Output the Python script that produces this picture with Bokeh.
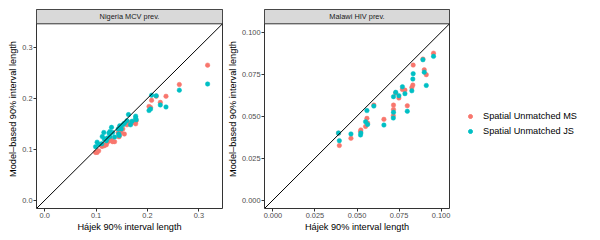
from bokeh.plotting import figure
from bokeh.models import Range1d, FixedTicker, Legend, LegendItem, NumeralTickFormatter
from bokeh.layouts import row
from bokeh.embed import file_html
from bokeh.resources import INLINE
from bokeh.core.properties import value

# ---------------- data ----------------
panel_titles = ["Nigeria MCV prev.", "Malawi HIV prev."]
series_names = ["Spatial Unmatched MS", "Spatial Unmatched JS"]
x_title = "Hájek 90% interval length"
y_title = "Model\u2013based 90% interval length"

ng_hajek = [0.317, 0.262, 0.236, 0.225, 0.208, 0.217, 0.203, 0.206, 0.177, 0.177,
            0.178, 0.163, 0.167, 0.155, 0.146, 0.145, 0.143, 0.130, 0.127, 0.132,
            0.125, 0.127, 0.122, 0.120, 0.112, 0.111, 0.102, 0.099, 0.115, 0.136,
            0.160, 0.149, 0.144, 0.116, 0.105, 0.170, 0.152]
ng_ms = [0.265, 0.227, 0.204, 0.192, 0.196, 0.204, 0.184, 0.182, 0.155, 0.150,
         0.156, 0.153, 0.150, 0.130, 0.144, 0.125, 0.133, 0.118, 0.120, 0.115,
         0.117, 0.122, 0.114, 0.109, 0.106, 0.106, 0.094, 0.094, 0.109, 0.115,
         0.148, 0.133, 0.125, 0.107, 0.097, 0.152, 0.140]
ng_js = [0.228, 0.216, 0.183, 0.187, 0.206, 0.205, 0.176, 0.179, 0.165, 0.161,
         0.158, 0.168, 0.148, 0.151, 0.146, 0.127, 0.140, 0.143, 0.135, 0.133,
         0.132, 0.125, 0.122, 0.117, 0.125, 0.111, 0.114, 0.105, 0.133, 0.124,
         0.156, 0.140, 0.130, 0.120, 0.110, 0.155, 0.148]

mw_hajek = [0.0955, 0.0892, 0.0900, 0.0912, 0.0834, 0.0832, 0.0826, 0.0770, 0.0785, 0.0730,
            0.0749, 0.0717, 0.0799, 0.0717, 0.0716, 0.0660, 0.0600, 0.0559, 0.0551, 0.0563,
            0.0523, 0.0521, 0.0464, 0.0390, 0.0395]
mw_ms = [0.0875, 0.0840, 0.0776, 0.0747, 0.0804, 0.0685, 0.0671, 0.0659, 0.0655, 0.0638,
         0.0608, 0.0566, 0.0562, 0.0540, 0.0503, 0.0481, 0.0566, 0.0487, 0.0439, 0.0459,
         0.0418, 0.0410, 0.0368, 0.0398, 0.0325]
mw_js = [0.0856, 0.0836, 0.0762, 0.0683, 0.0753, 0.0721, 0.0651, 0.0675, 0.0634, 0.0642,
         0.0622, 0.0616, 0.0529, 0.0523, 0.0489, 0.0447, 0.0560, 0.0533, 0.0467, 0.0451,
         0.0400, 0.0388, 0.0394, 0.0400, 0.0354]

ng_ticks = [0.0, 0.1, 0.2, 0.3]
ng_tick_labels = ["0.0", "0.1", "0.2", "0.3"]
mw_ticks = [0.0, 0.025, 0.05, 0.075, 0.1]
mw_tick_labels = ["0.000", "0.025", "0.050", "0.075", "0.100"]

ng_limits = (-0.016, 0.346)
mw_limits = (-0.005, 0.105)

# ---------------- style ----------------
FONT = "Liberation Sans"
MS_COLOR = "#F8766D"
JS_COLOR = "#00BFC4"
BORDER = "#333333"
HEIGHT = 240
TOP = 9
BOTTOM = 32
STRIP_PX = 14.3
PANEL_PX = HEIGHT - TOP - BOTTOM - STRIP_PX
PT_SIZE = 4.5


def make_panel(title, xs, ms, js, lims, ticks, labels, fmt, width, left, right):
    lo, hi = lims
    strip_h = (hi - lo) * STRIP_PX / PANEL_PX
    p = figure(width=width, height=HEIGHT, output_backend="svg", toolbar_location=None,
               x_range=Range1d(lo, hi), y_range=Range1d(lo, hi + strip_h),
               min_border_left=left, min_border_right=right,
               min_border_top=TOP, min_border_bottom=BOTTOM)
    p.xgrid.visible = False
    p.ygrid.visible = False
    p.outline_line_color = BORDER
    p.outline_line_width = 1
    p.background_fill_color = "white"
    p.border_fill_color = "white"

    for ax in (p.xaxis[0], p.yaxis[0]):
        ax.ticker = FixedTicker(ticks=ticks)
        ax.formatter = NumeralTickFormatter(format=fmt)
        ax.major_label_overrides = dict(zip(ticks, labels))
        ax.axis_line_color = None
        ax.major_tick_line_color = BORDER
        ax.major_tick_out = 3
        ax.major_tick_in = 0
        ax.minor_tick_line_color = None
        ax.major_label_text_font = FONT
        ax.major_label_text_font_size = "7.4px"
        ax.major_label_text_color = "#4D4D4D"
        ax.major_label_standoff = 1
        ax.axis_label_text_font = FONT
        ax.axis_label_text_font_size = "9.2px"
        ax.axis_label_text_font_style = "normal"
        ax.axis_label_text_color = "#000000"
        ax.axis_label_standoff = 1
    p.xaxis.axis_label = x_title
    p.yaxis.axis_label = y_title

    # facet strip
    p.quad(left=[lo], right=[hi], bottom=[hi], top=[hi + strip_h],
           fill_color="#D9D9D9", line_color=BORDER, line_width=1)
    p.text(x=[(lo + hi) / 2], y=[hi + strip_h / 2], text=[title],
           text_align="center", text_baseline="middle",
           text_font=value(FONT), text_font_size="7.4px", text_color="#1A1A1A")

    p.scatter(xs, ms, size=PT_SIZE, fill_color=MS_COLOR, line_color=MS_COLOR, line_width=0.5)
    p.scatter(xs, js, size=PT_SIZE, fill_color=JS_COLOR, line_color=JS_COLOR, line_width=0.5)
    p.line([lo, hi], [lo, hi], line_color="black", line_width=1)
    return p


p1 = make_panel(panel_titles[0], ng_hajek, ng_ms, ng_js, ng_limits,
                ng_ticks, ng_tick_labels, "0.0", 225, 36, 3)
p2 = make_panel(panel_titles[1], mw_hajek, mw_ms, mw_js, mw_limits,
                mw_ticks, mw_tick_labels, "0.000", 227, 39, 3)

# legend panel (its renderers use the Malawi series, kept outside the visible range)
p3 = figure(width=148, height=HEIGHT, output_backend="svg", toolbar_location=None,
            x_range=Range1d(10, 11), y_range=Range1d(10, 11),
            min_border_left=13, min_border_right=0,
            min_border_top=TOP, min_border_bottom=BOTTOM)
p3.axis.visible = False
p3.xgrid.visible = False
p3.ygrid.visible = False
p3.outline_line_color = None
r_ms = p3.scatter(mw_hajek, mw_ms, size=4, fill_color=MS_COLOR, line_color=MS_COLOR)
r_js = p3.scatter(mw_hajek, mw_js, size=4, fill_color=JS_COLOR, line_color=JS_COLOR)
legend = Legend(items=[LegendItem(label=series_names[0], renderers=[r_ms]),
                       LegendItem(label=series_names[1], renderers=[r_js])],
                location=(0, 72), orientation="vertical",
                margin=0, padding=0, spacing=5,
                glyph_width=10, glyph_height=10, label_standoff=8,
                label_text_font=FONT, label_text_font_size="9.2px",
                label_text_color="#000000",
                border_line_color=None, background_fill_color=None,
                background_fill_alpha=0)
p3.add_layout(legend, "center")

layout = row(p1, p2, p3)
open("out.html", "w").write(file_html(layout, INLINE))
